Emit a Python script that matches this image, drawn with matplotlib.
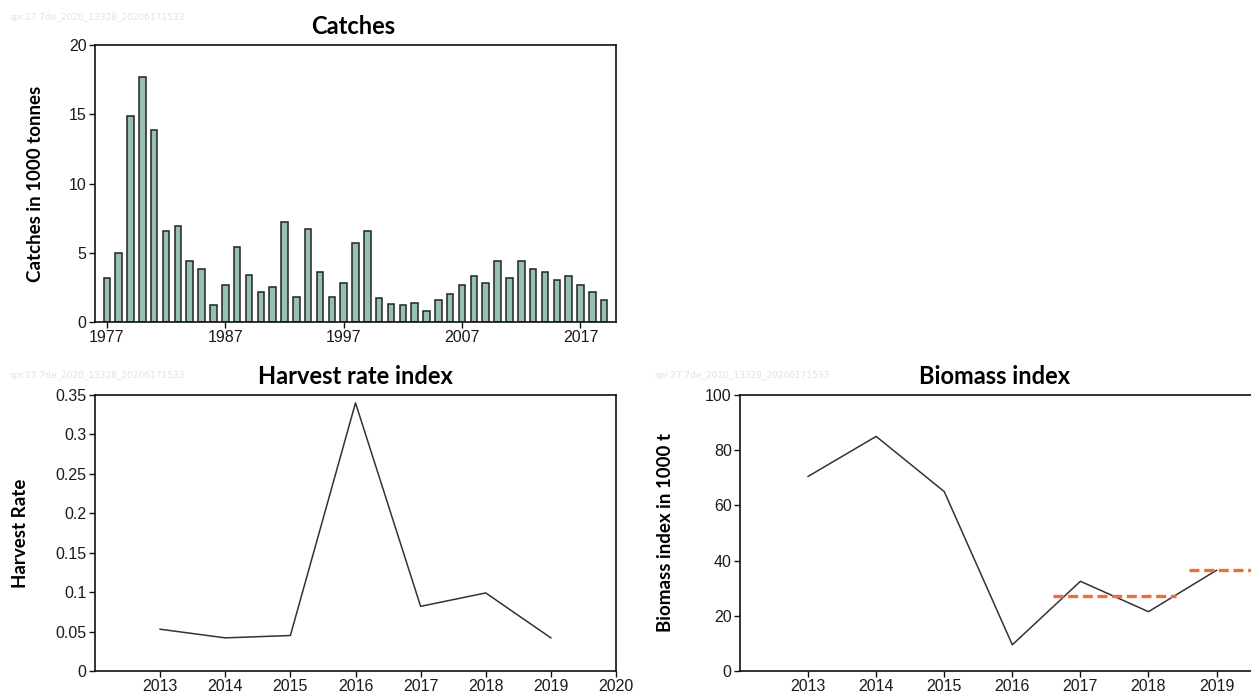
import matplotlib
matplotlib.use("Agg")
import matplotlib.pyplot as plt
import matplotlib.transforms as mtransforms
from matplotlib import font_manager

# Data
catch_years = list(range(1977, 2020))
catches = [3.2, 5.0, 14.85, 17.7, 13.85, 6.6, 6.9, 4.4, 3.8, 1.2,
           2.7, 5.4, 3.4, 2.2, 2.5, 7.2, 1.8, 6.7, 3.6, 1.8,
           2.8, 5.7, 6.6, 1.7, 1.3, 1.2, 1.4, 0.8, 1.6, 2.0,
           2.7, 3.3, 2.8, 4.4, 3.2, 4.4, 3.8, 3.6, 3.0, 3.3,
           2.7, 2.2, 1.6]
catch_ticks = [1977, 1987, 1997, 2007, 2017]

index_years = [2013, 2014, 2015, 2016, 2017, 2018, 2019]
harvest_rate = [0.053, 0.042, 0.045, 0.34, 0.082, 0.099, 0.042]
harvest_ticks = [2013, 2014, 2015, 2016, 2017, 2018, 2019, 2020]
harvest_yticks = [0, 0.05, 0.1, 0.15, 0.2, 0.25, 0.3, 0.35]
harvest_ylabels = ["0", "0.05", "0.1", "0.15", "0.2", "0.25", "0.3", "0.35"]

biomass = [70.5, 85.0, 65.0, 9.5, 32.5, 21.5, 36.5]
# advice reference segments (x start, x end, level)
adv_x1 = [2016.6, 2018.6]
adv_x2 = [2018.4, 2020.4]
adv_level = [27.0, 36.5]

stamp = "spr.27.7de_2020_13328_20206171533"

# fonts
names = {f.name for f in font_manager.fontManager.ttflist}
if "Liberation Sans Narrow" in names:
    tick_font, tick_size = "Liberation Sans Narrow", 13.5
else:
    tick_font, tick_size = "Liberation Sans", 11.5
head_font = "Lato" if "Lato" in names else "DejaVu Sans"

W, H = 1251, 695
fig = plt.figure(figsize=(W / 100, H / 100), dpi=100)


def box(l, t, r, b):
    return [l / W, 1 - b / H, (r - l) / W, (b - t) / H]


def style(ax):
    for s in ax.spines.values():
        s.set_linewidth(1.2)
        s.set_color("#111111")
    ax.tick_params(direction="out", length=4, width=1, color="#111111",
                   labelsize=tick_size, labelcolor="#1a1a1a", pad=2)
    for lab in ax.get_xticklabels() + ax.get_yticklabels():
        lab.set_fontfamily(tick_font)


def ylab(ax, text, x):
    # y label placed at a fixed pixel column
    ax.set_ylabel(text, fontfamily=head_font, fontweight="bold", fontsize=13.5)
    tr = mtransforms.blended_transform_factory(fig.transFigure, ax.transAxes)
    ax.yaxis.set_label_coords(x / W, 0.5, transform=tr)


# Catches
ax1 = fig.add_axes(box(95, 45, 616, 322))
ax1.bar(catch_years, catches, width=0.55, color="#96c1b1",
        edgecolor="#222222", linewidth=1.1)
ax1.set_xlim(1976, 2020)
ax1.set_ylim(0, 20)
ax1.set_xticks(catch_ticks)
ax1.set_yticks([0, 5, 10, 15, 20])
ylab(ax1, "Catches in 1000 tonnes", 44)
style(ax1)
fig.text(353 / W, 1 - 27 / H, "Catches", ha="center", va="center",
         fontfamily=head_font, fontweight="bold", fontsize=17)

# Harvest rate index
ax2 = fig.add_axes(box(95, 395, 616, 671))
ax2.plot(index_years, harvest_rate, color="#333333", linewidth=1.1)
ax2.set_xlim(2012, 2020)
ax2.set_ylim(0, 0.35)
ax2.set_xticks(harvest_ticks)
ax2.set_yticks(harvest_yticks)
ax2.set_yticklabels(harvest_ylabels)
ylab(ax2, "Harvest Rate", 29)
style(ax2)
fig.text(355 / W, 1 - 377 / H, "Harvest rate index", ha="center", va="center",
         fontfamily=head_font, fontweight="bold", fontsize=17)

# Biomass index
ax3 = fig.add_axes(box(740, 395, 1254, 671))
ax3.plot(index_years, biomass, color="#333333", linewidth=1.1)
for x1, x2, lv in zip(adv_x1, adv_x2, adv_level):
    ax3.plot([x1, x2], [lv, lv], color="#f26b3a", linewidth=2.4,
             dashes=(3, 1.4))
ax3.set_xlim(2012, 2019.55)
ax3.set_ylim(0, 100)
ax3.set_xticks(index_years)
ax3.set_yticks([0, 20, 40, 60, 80, 100])
ylab(ax3, "Biomass index in 1000 t", 674)
style(ax3)
fig.text(995 / W, 1 - 377 / H, "Biomass index", ha="center", va="center",
         fontfamily=head_font, fontweight="bold", fontsize=17)

# faint run stamps
for x, y in [(10, 18), (10, 375), (655, 375)]:
    fig.text(x / W, 1 - y / H, stamp, ha="left", va="center",
             fontsize=6.5, color="#e2e2e2")

fig.savefig("out.png", dpi=100)
